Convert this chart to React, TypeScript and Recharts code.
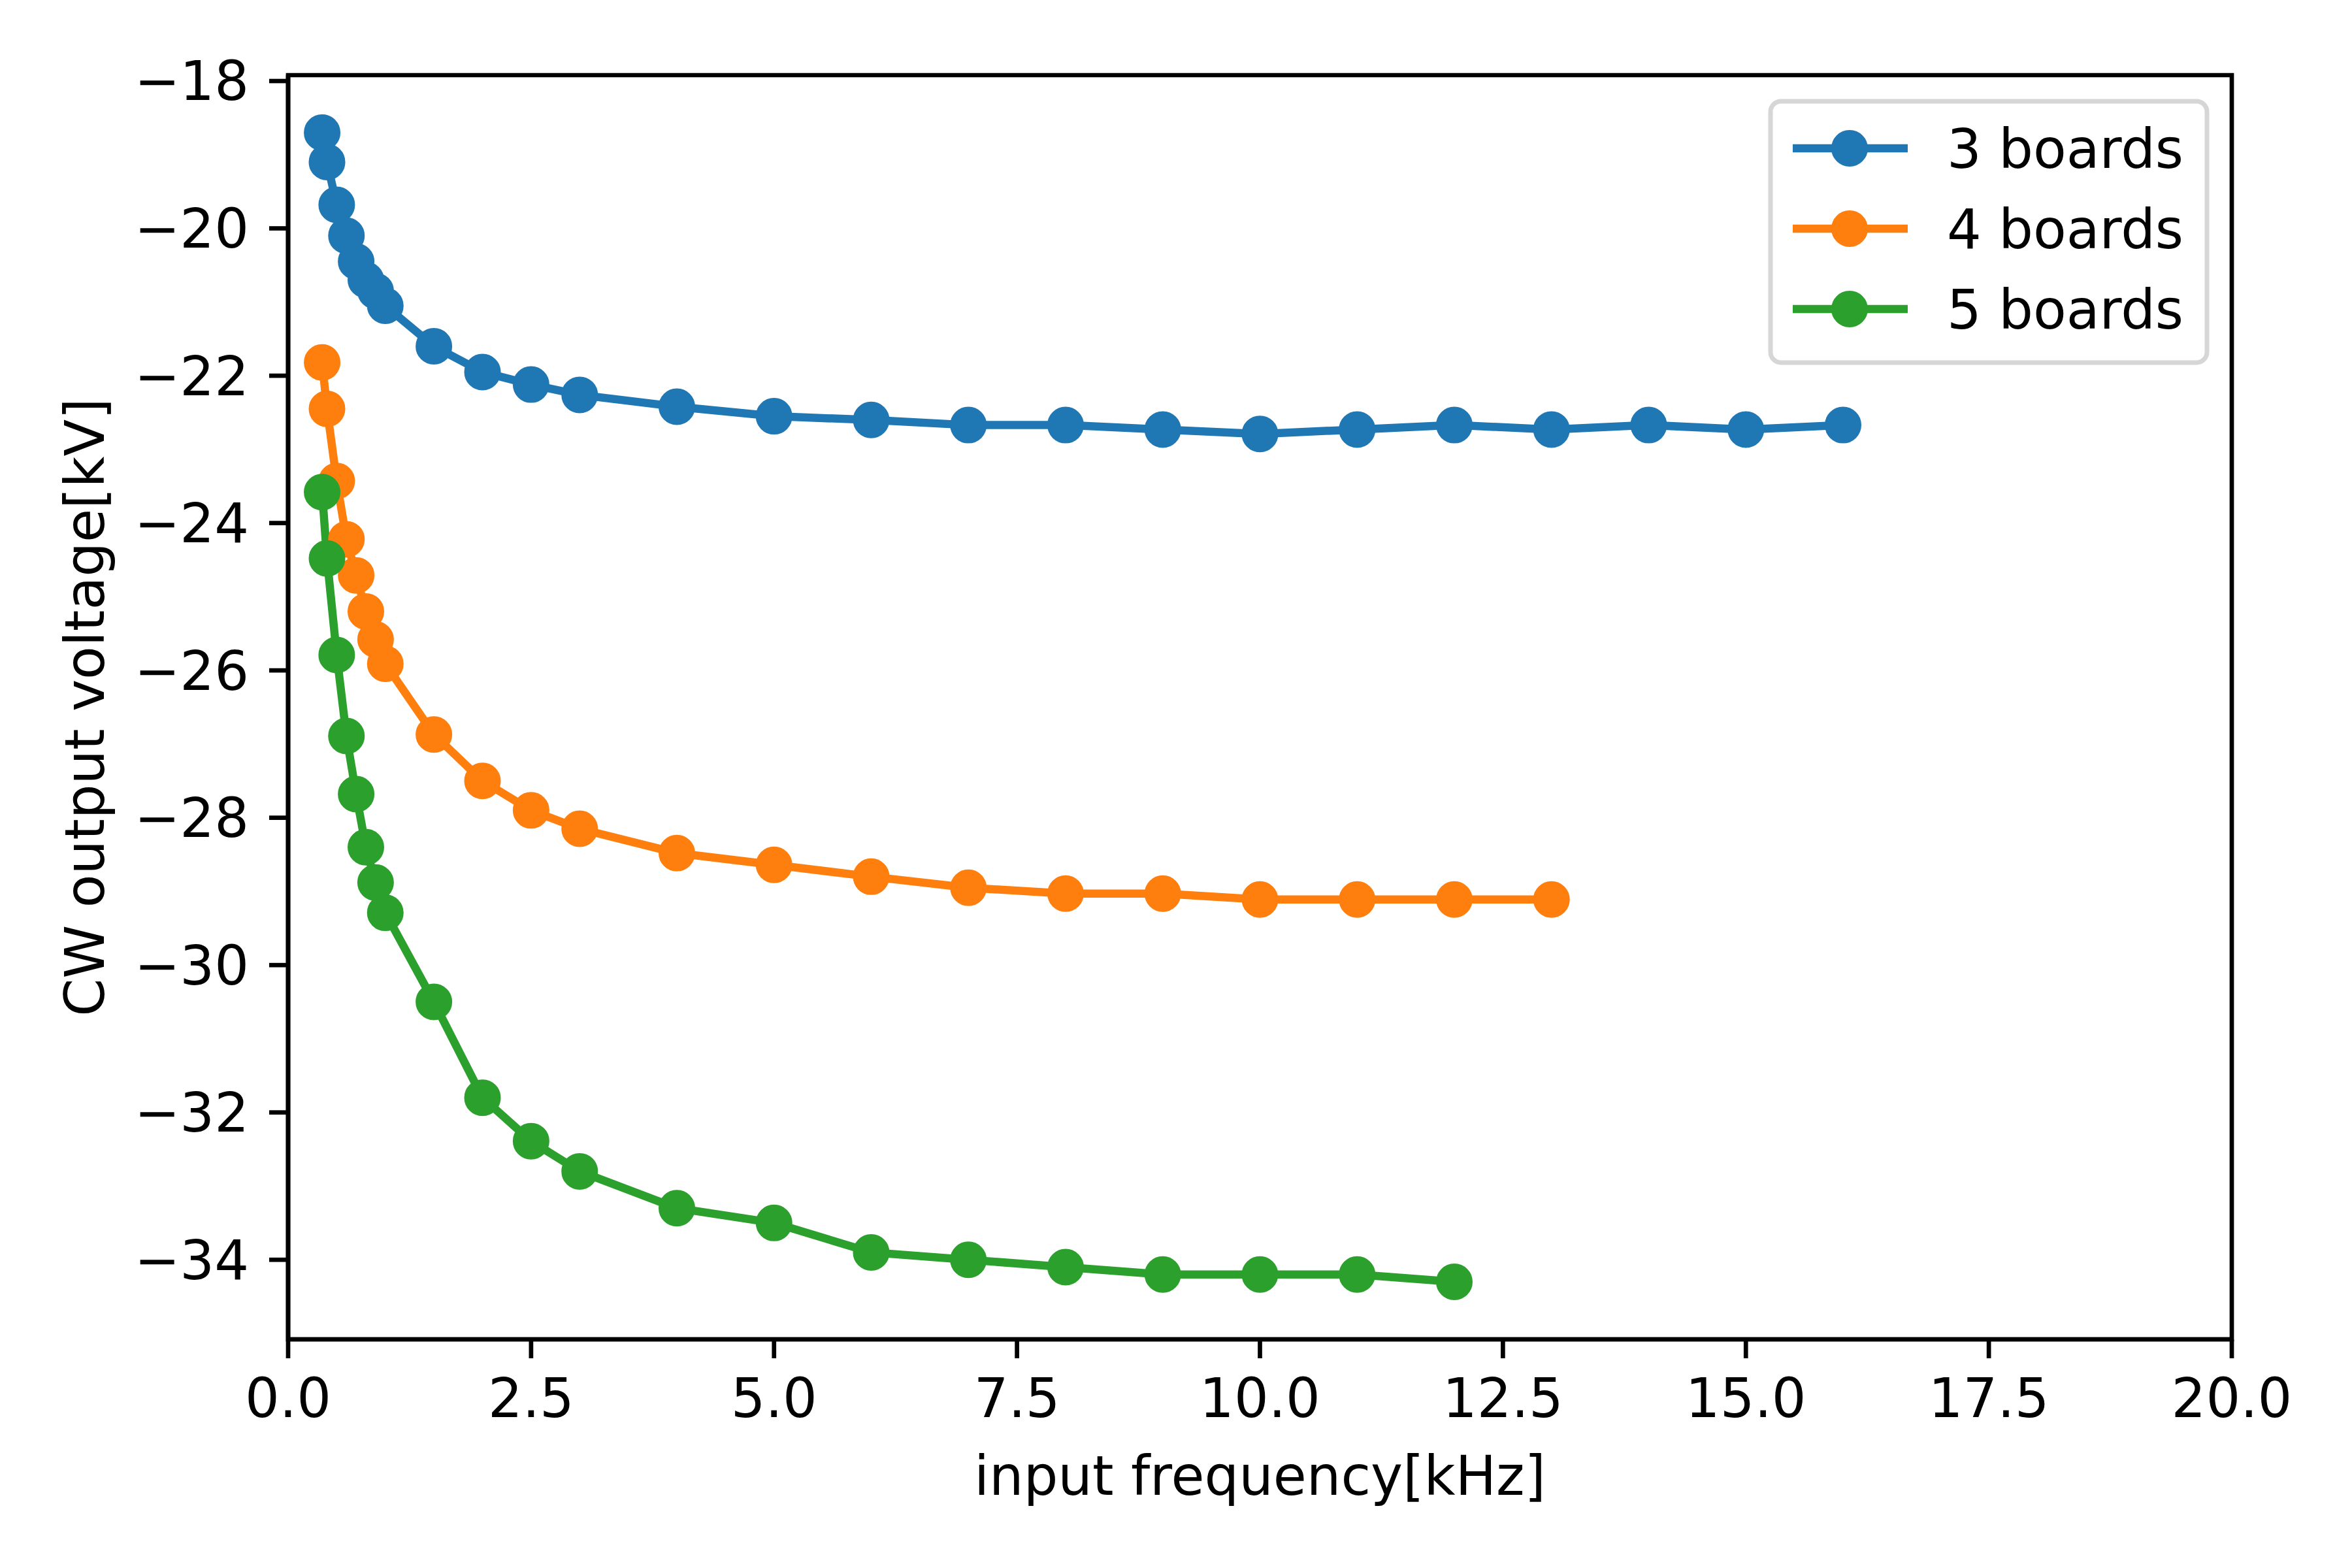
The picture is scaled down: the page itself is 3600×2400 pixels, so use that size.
import { LineChart, Line, XAxis, YAxis, Legend, ReferenceArea } from 'recharts';

// input frequency [kHz] per series
const freq3 = [0.35, 0.4, 0.5, 0.6, 0.7, 0.8, 0.9, 1.0, 1.5, 2, 2.5, 3, 4, 5, 6, 7, 8, 9, 10, 11, 12, 13, 14, 15, 16];
const freq4 = [0.35, 0.4, 0.5, 0.6, 0.7, 0.8, 0.9, 1.0, 1.5, 2, 2.5, 3, 4, 5, 6, 7, 8, 9, 10, 11, 12, 13];
const freq5 = [0.35, 0.4, 0.5, 0.6, 0.7, 0.8, 0.9, 1.0, 1.5, 2, 2.5, 3, 4, 5, 6, 7, 8, 9, 10, 11, 12];

// CW output voltage [kV]
const volt3 = [-18.7, -19.1, -19.68, -20.1, -20.45, -20.7, -20.85, -21.05, -21.6, -21.95, -22.12, -22.26, -22.42, -22.55, -22.6, -22.67, -22.67, -22.73, -22.79, -22.73, -22.67, -22.73, -22.67, -22.73, -22.67];
const volt4 = [-21.82, -22.45, -23.43, -24.22, -24.71, -25.2, -25.58, -25.91, -26.87, -27.5, -27.9, -28.15, -28.48, -28.64, -28.8, -28.95, -29.03, -29.03, -29.11, -29.11, -29.11, -29.11];
const volt5 = [-23.58, -24.48, -25.79, -26.89, -27.68, -28.4, -28.88, -29.29, -30.5, -31.8, -32.39, -32.8, -33.3, -33.5, -33.9, -34.0, -34.1, -34.2, -34.2, -34.2, -34.3];

const labels = ['3 boards', '4 boards', '5 boards'];
const colors = ['#1f77b4', '#ff7f0e', '#2ca02c'];

const xTicks = [0, 2.5, 5, 7.5, 10, 12.5, 15, 17.5, 20];
const yTicks = [-34, -32, -30, -28, -26, -24, -22, -20, -18];

const toRows = (xs: number[], ys: number[]) => xs.map((f, i) => ({ f, v: ys[i] }));
const seriesData = [toRows(freq3, volt3), toRows(freq4, volt4), toRows(freq5, volt5)];

const FONT = 'DejaVu Sans';
const FS = 83;

function LegendBox() {
  return (
    <svg width={690} height={420} style={{ display: 'block' }}>
      <rect x={10} y={10} width={668} height={400} rx={16} ry={16}
        fill="#ffffff" fillOpacity={0.8} stroke="#d6d6d6" strokeWidth={7} />
      {labels.map((name, i) => {
        const cy = 82 + i * 123;
        return (
          <g key={name}>
            <line x1={44} x2={220} y1={cy} y2={cy} stroke={colors[i]} strokeWidth={12.5} />
            <circle cx={131} cy={cy} r={24} fill={colors[i]} stroke={colors[i]} strokeWidth={8} />
            <text x={280} y={cy} dy="0.365em" fontFamily={FONT} fontSize={FS} fill="#000">{name}</text>
          </g>
        );
      })}
    </svg>
  );
}

const minus = (v: number) => String(v).replace('-', '\u2212');

export default function App() {
  return (
    <div style={{ position: 'absolute', left: 0, top: 0, width: 3600, height: 2400, background: '#fff' }}>
      <LineChart
        width={3600}
        height={2400}
        margin={{ top: 115, right: 184, bottom: 150, left: 0 }}
        style={{ fontFamily: FONT }}
      >
        <XAxis
          dataKey="f"
          type="number"
          domain={[0, 20]}
          ticks={xTicks}
          allowDataOverflow
          height={200}
          tickSize={29}
          tickMargin={31}
          tickFormatter={(v: number) => v.toFixed(1)}
          tick={{ fontSize: FS, fill: '#000', fontFamily: FONT }}
          axisLine={{ stroke: '#000', strokeWidth: 6.7 }}
          tickLine={{ stroke: '#000', strokeWidth: 6.7 }}
          label={{
            value: 'input frequency[kHz]',
            position: 'insideBottom',
            offset: 0,
            content: (props: any) => {
              const vb = props.viewBox;
              return (
                <text x={vb.x + vb.width / 2} y={2288} textAnchor="middle"
                  fontFamily={FONT} fontSize={FS} fill="#000">input frequency[kHz]</text>
              );
            },
          }}
        />
        <YAxis
          dataKey="v"
          type="number"
          domain={[-35.08, -17.92]}
          ticks={yTicks}
          allowDataOverflow
          width={441}
          tickSize={29}
          tickMargin={31}
          tickFormatter={minus}
          tick={{ fontSize: FS, fill: '#000', fontFamily: FONT }}
          axisLine={{ stroke: '#000', strokeWidth: 6.7 }}
          tickLine={{ stroke: '#000', strokeWidth: 6.7 }}
          label={{
            value: 'CW output voltage[kV]',
            content: (props: any) => {
              const vb = props.viewBox;
              const cy = vb.y + vb.height / 2;
              return (
                <text x={130} y={cy} textAnchor="middle" dominantBaseline="central"
                  transform={`rotate(-90, 130, ${cy})`}
                  fontFamily={FONT} fontSize={FS} fill="#000">CW output voltage[kV]</text>
              );
            },
          }}
        />
        <ReferenceArea x1={0} x2={20} y1={-35.08} y2={-17.92}
          fill="none" stroke="#000" strokeWidth={6.7} ifOverflow="visible" />
        {seriesData.map((rows, i) => (
          <Line
            key={labels[i]}
            data={rows}
            dataKey="v"
            name={labels[i]}
            type="linear"
            stroke={colors[i]}
            strokeWidth={12.5}
            dot={{ r: 24, fill: colors[i], stroke: colors[i], strokeWidth: 8 }}
            activeDot={false}
            isAnimationActive={false}
          />
        ))}
        <Legend
          layout="horizontal"
          verticalAlign="middle"
          align="center"
          content={() => <LegendBox />}
          wrapperStyle={{ position: 'absolute', left: 2700, top: 145, width: 690, height: 420 }}
        />
      </LineChart>
    </div>
  );
}
